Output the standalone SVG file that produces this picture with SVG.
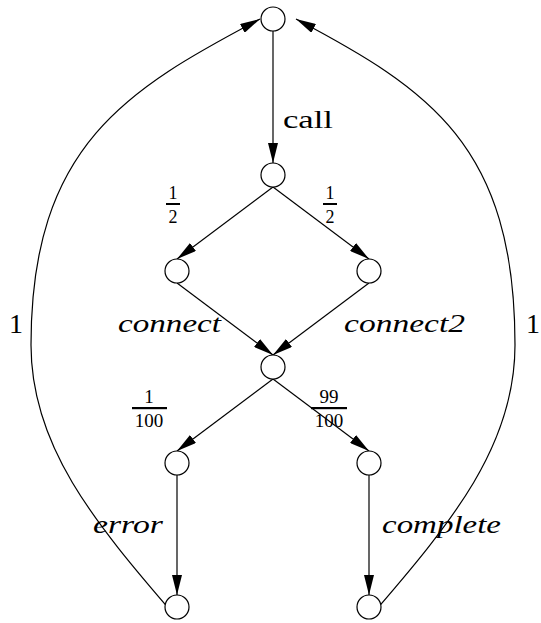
<svg xmlns="http://www.w3.org/2000/svg" width="541" height="623" viewBox="0 0 541 623">
<defs>
<marker id="ah" markerWidth="20" markerHeight="10" refX="20" refY="5" orient="auto" markerUnits="userSpaceOnUse">
<path d="M0,0 L20,5 L0,10 z" fill="#000"/>
</marker>
<style>
.node{fill:#fff;stroke:#000;stroke-width:1.2}
.edge{fill:none;stroke:#000;stroke-width:1.2;marker-end:url(#ah)}
.t{font-family:"Liberation Serif","DejaVu Serif",serif;fill:#000}
.it{font-style:italic}
.bar{fill:#000}
</style>
</defs>
<rect width="541" height="623" fill="#fff"/>
<g id="connectors">
<line class="edge" x1="273" y1="31" x2="273" y2="163"/>
<line class="edge" x1="273" y1="187" x2="177" y2="259"/>
<line class="edge" x1="273" y1="187" x2="369" y2="259"/>
<line class="edge" x1="177" y1="283" x2="273" y2="355"/>
<line class="edge" x1="369" y1="283" x2="273" y2="355"/>
<line class="edge" x1="273" y1="379" x2="177" y2="451"/>
<line class="edge" x1="273" y1="379" x2="369" y2="451"/>
<line class="edge" x1="177" y1="475" x2="177" y2="595"/>
<line class="edge" x1="369" y1="475" x2="369" y2="595"/>
<path class="edge" d="M177,618 C92.5,520.5 31,445 31,345 C31,145 127.4,89.2 260,19"/>
<path class="edge" d="M369,618 C453.5,520.5 515,445 515,345 C515,145 428.6,89.2 296,19"/>
</g>
<g id="n0"><circle class="node" cx="273" cy="19" r="12"/></g>
<g id="n1"><circle class="node" cx="273" cy="175" r="12"/></g>
<g id="n2"><circle class="node" cx="177" cy="271" r="12"/></g>
<g id="n3"><circle class="node" cx="369" cy="271" r="12"/></g>
<g id="n4"><circle class="node" cx="273" cy="367" r="12"/></g>
<g id="n5"><circle class="node" cx="177" cy="463" r="12"/></g>
<g id="n6"><circle class="node" cx="369" cy="463" r="12"/></g>
<g id="n7"><circle class="node" cx="177" cy="607" r="12"/></g>
<g id="n8"><circle class="node" cx="369" cy="607" r="12"/></g>
<g id="labels">
<text class="t" x="283" y="128" font-size="26" textLength="50" lengthAdjust="spacingAndGlyphs">call</text>
<text class="t it" x="118" y="332" font-size="26" textLength="103" lengthAdjust="spacingAndGlyphs">connect</text>
<text class="t it" x="344" y="332" font-size="26" textLength="121" lengthAdjust="spacingAndGlyphs">connect2</text>
<text class="t it" x="93" y="533" font-size="26" textLength="70" lengthAdjust="spacingAndGlyphs">error</text>
<text class="t it" x="382" y="533" font-size="26" textLength="119" lengthAdjust="spacingAndGlyphs">complete</text>
<text class="t" x="16" y="333" font-size="28" text-anchor="middle">1</text>
<text class="t" x="533" y="333" font-size="28" text-anchor="middle">1</text>
<text class="t" x="173" y="199" font-size="18" text-anchor="middle">1</text>
<rect class="bar" x="166" y="203" width="14" height="2"/>
<text class="t" x="173" y="223" font-size="18" text-anchor="middle">2</text>
<text class="t" x="330" y="199" font-size="18" text-anchor="middle">1</text>
<rect class="bar" x="323" y="203" width="14" height="2"/>
<text class="t" x="330" y="223" font-size="18" text-anchor="middle">2</text>
<text class="t" x="149" y="403" font-size="19" text-anchor="middle">1</text>
<rect class="bar" x="132" y="407" width="35" height="2.2"/>
<text class="t" x="149" y="427" font-size="19" text-anchor="middle">100</text>
<text class="t" x="329" y="403" font-size="19" text-anchor="middle">99</text>
<rect class="bar" x="311" y="407" width="36" height="2.2"/>
<text class="t" x="329" y="427" font-size="19" text-anchor="middle">100</text>
</g>
</svg>
